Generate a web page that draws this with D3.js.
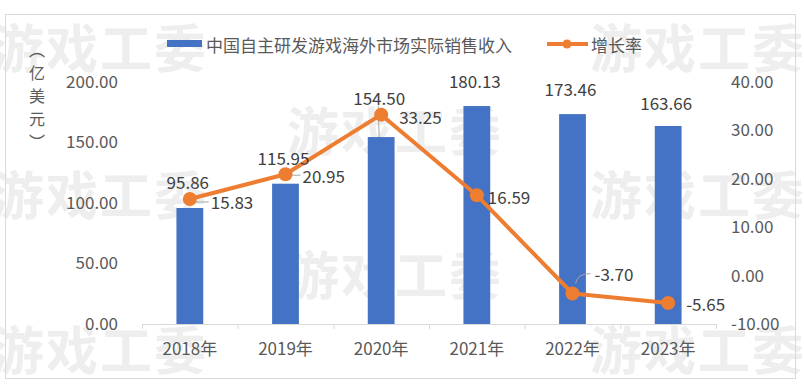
<!DOCTYPE html>
<html>
<head>
<meta charset="utf-8">
<title>中国自主研发游戏海外市场实际销售收入</title>
<script src="https://cdnjs.cloudflare.com/ajax/libs/d3/7.8.5/d3.min.js"></script>
<style>
  body { margin: 0; background: #fff; }
  text { font-family: "Microsoft YaHei", "Noto Sans CJK SC", sans-serif; }
</style>
</head>
<body>
<div id="chart"></div>
<script>
// data
var years = ["2018年", "2019年", "2020年", "2021年", "2022年", "2023年"];
var revenue = [95.86, 115.95, 154.50, 180.13, 173.46, 163.66];
var growth = [15.83, 20.95, 33.25, 16.59, -3.70, -5.65];
var leftTicks = [0, 50, 100, 150, 200];
var rightTicks = [-10, 0, 10, 20, 30, 40];
var seriesNames = ["中国自主研发游戏海外市场实际销售收入", "增长率"];
var yTitle = "（亿美元）";
var watermark = "游戏工委";

var W = 804, H = 386;
var blue = "#4472C4", orange = "#ED7D31", grey = "#595959";

var svg = d3.select("#chart").append("svg")
  .attr("width", W).attr("height", H);

// watermark tiles, behind everything
var marks = [[-8, 45], [590, 45], [287, 128], [-8, 192], [590, 192], [287, 272], [-8, 347], [590, 347]];
svg.selectAll("text.wm").data(marks).enter().append("text")
  .attr("class", "wm")
  .attr("x", d => d[0]).attr("y", d => d[1])
  .attr("dominant-baseline", "central")
  .style("font-size", "52px").style("font-weight", "bold")
  .style("letter-spacing", "2px")
  .style("fill", "#eeeeee")
  .text(watermark);

// outer frame
svg.append("rect").attr("x", 5.5).attr("y", 14.5).attr("width", 790).attr("height", 364)
  .style("fill", "none").style("stroke", "#d9d9d9");

// scales
var x = d3.scaleBand().domain(years).range([142, 716]);
var yL = d3.scaleLinear().domain([0, 200]).range([324, 82]);
var yR = d3.scaleLinear().domain([-10, 40]).range([324, 82]);
var barW = x.bandwidth() * 0.28;
var cx = d => x(d) + x.bandwidth() / 2;

// plain hyphen minus, as in the original
var f2 = d3.format(".2f");
var fmt = d => f2(d).replace("\u2212", "-");

// left axis labels
svg.append("g").attr("transform", "translate(118,0)")
  .call(d3.axisLeft(yL).tickValues(leftTicks).tickFormat(fmt).tickSize(0))
  .call(g => g.select(".domain").remove())
  .selectAll("text").attr("x", 0).style("font-size", "17px").style("fill", grey).style("font-family", null);

// right axis labels (left-aligned like Excel)
svg.append("g").attr("transform", "translate(731,0)")
  .call(d3.axisRight(yR).tickValues(rightTicks).tickFormat(fmt).tickSize(0))
  .call(g => g.select(".domain").remove())
  .selectAll("text").attr("x", 0).style("font-size", "17px").style("fill", grey).style("font-family", null);

// y title, vertical
svg.append("text")
  .attr("x", 37).attr("y", 42)
  .style("writing-mode", "vertical-rl")
  .style("font-size", "16px").style("letter-spacing", "7px")
  .style("fill", grey)
  .text(yTitle);

// bars
svg.selectAll("rect.bar").data(revenue).enter().append("rect")
  .attr("class", "bar")
  .attr("x", (d, i) => cx(years[i]) - barW / 2)
  .attr("y", d => yL(d))
  .attr("width", barW)
  .attr("height", d => yL(0) - yL(d))
  .style("fill", blue);

// x axis line with boundary ticks
var bounds = d3.scaleLinear().domain([0, years.length]).range([142, 716]);
svg.append("g").attr("transform", "translate(0,324)")
  .call(d3.axisBottom(bounds).ticks(years.length).tickFormat("").tickSize(5))
  .call(g => g.select(".domain").attr("stroke", "#d9d9d9"))
  .call(g => g.selectAll(".tick line").attr("stroke", "#d9d9d9"));

svg.append("g").attr("transform", "translate(0,343)")
  .call(d3.axisBottom(x).tickSize(0))
  .call(g => g.select(".domain").remove())
  .selectAll("text").attr("y", 0).attr("dy", "0.7em")
  .style("font-size", "17px").style("fill", grey).style("font-family", null);

// line
var line = d3.line().x((d, i) => cx(years[i])).y(d => yR(d));
svg.append("path").datum(growth)
  .attr("d", line)
  .style("fill", "none").style("stroke", orange)
  .style("stroke-width", 4).style("stroke-linejoin", "round");

// label nudges (label centre relative to anchor) - hand moved in the original
var barLabelDy = [-27, -26, -40, -26, -26, -23];
var lineLabelShift = [[21, 3], [17, 1], [18, 2], [11, 1], [22, -20], [18, 1]];

// leader lines
var leader = svg.append("g").style("stroke", "#a6a6a6").style("fill", "none").style("stroke-width", 1);
[0, 1].forEach(function (i) {
  var px = cx(years[i]), py = yR(growth[i]);
  leader.append("line").attr("x1", px + 5).attr("y1", py + lineLabelShift[i][1])
    .attr("x2", px + lineLabelShift[i][0] - 2).attr("y2", py + lineLabelShift[i][1]);
});
(function () {
  var px = cx(years[2]);
  leader.append("line").attr("x1", px - 3).attr("y1", yL(revenue[2]) + barLabelDy[2] + 9)
    .attr("x2", px - 2).attr("y2", yL(revenue[2]));
  var qx = cx(years[4]), qy = yR(growth[4]);
  leader.append("path")
    .attr("d", "M" + (qx + 3) + "," + (qy - 10) + " Q" + (qx + 5) + "," + (qy + lineLabelShift[4][1]) +
      " " + (qx + lineLabelShift[4][0] - 4) + "," + (qy + lineLabelShift[4][1]));
})();

svg.selectAll("circle.pt").data(growth).enter().append("circle")
  .attr("class", "pt")
  .attr("cx", (d, i) => cx(years[i]))
  .attr("cy", d => yR(d))
  .attr("r", 7)
  .style("fill", orange);

// bar value labels
svg.selectAll("text.bl").data(revenue).enter().append("text")
  .attr("class", "bl")
  .attr("x", (d, i) => cx(years[i]) - 2)
  .attr("y", (d, i) => yL(d) + barLabelDy[i])
  .attr("text-anchor", "middle").attr("dominant-baseline", "central")
  .style("font-size", "17px").style("fill", "#404040")
  .text(d => fmt(d));

// growth labels
svg.selectAll("text.ll").data(growth).enter().append("text")
  .attr("class", "ll")
  .attr("x", (d, i) => cx(years[i]) + lineLabelShift[i][0])
  .attr("y", (d, i) => yR(d) + lineLabelShift[i][1])
  .attr("dominant-baseline", "central")
  .style("font-size", "17px").style("fill", "#404040")
  .text(d => fmt(d));

// legend
var lg = svg.append("g");
lg.append("rect").attr("x", 167).attr("y", 40).attr("width", 35).attr("height", 7).style("fill", blue);
lg.append("text").attr("x", 206).attr("y", 44).attr("dominant-baseline", "central")
  .style("font-size", "17px").style("fill", grey).text(seriesNames[0]);
lg.append("line").attr("x1", 547).attr("x2", 588).attr("y1", 44).attr("y2", 44)
  .style("stroke", orange).style("stroke-width", 4);
lg.append("circle").attr("cx", 567).attr("cy", 44).attr("r", 4.5).style("fill", orange);
lg.append("text").attr("x", 591).attr("y", 44).attr("dominant-baseline", "central")
  .style("font-size", "17px").style("fill", grey).text(seriesNames[1]);
</script>
</body>
</html>
